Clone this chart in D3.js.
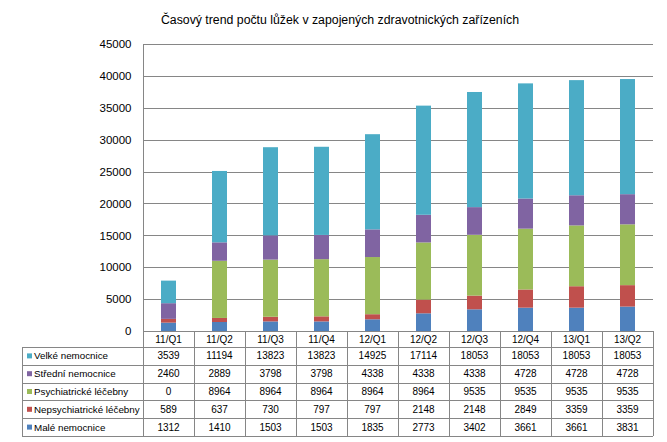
<!DOCTYPE html>
<html>
<head>
<meta charset="utf-8">
<script src="https://cdn.jsdelivr.net/npm/d3@7"></script>
<style>
  html, body { margin: 0; padding: 0; background: #fff; }
  svg { display: block; }
  text { font-family: "Liberation Sans", Arial, sans-serif; fill: #000; }
</style>
</head>
<body>
<svg id="chart" width="667" height="442"></svg>
<script>
const title = "Časový trend počtu lůžek v zapojených zdravotnických zařízeních";
const categories = ["11/Q1","11/Q2","11/Q3","11/Q4","12/Q1","12/Q2","12/Q3","12/Q4","13/Q1","13/Q2"];
// series in stacking order (bottom to top)
const seriesNames = ["Malé nemocnice","Nepsychiatrické léčebny","Psychiatrické léčebny","Střední nemocnice","Velké nemocnice"];
const maleNemocnice      = [1312, 1410, 1503, 1503, 1835, 2773, 3402, 3661, 3661, 3831];
const nepsychLecebny     = [589, 637, 730, 797, 797, 2148, 2148, 2849, 3359, 3359];
const psychLecebny       = [0, 8964, 8964, 8964, 8964, 8964, 9535, 9535, 9535, 9535];
const stredniNemocnice   = [2460, 2889, 3798, 3798, 4338, 4338, 4338, 4728, 4728, 4728];
const velkeNemocnice     = [3539, 11194, 13823, 13823, 14925, 17114, 18053, 18053, 18053, 18053];
const yTicks = [0,5000,10000,15000,20000,25000,30000,35000,40000,45000];
const colors = ["#4F81BD","#C0504D","#9BBB59","#8064A2","#4BACC6"];

const seriesValues = [maleNemocnice, nepsychLecebny, psychLecebny, stredniNemocnice, velkeNemocnice];
// table row order: top to bottom
const tableOrder = [4,3,2,1,0];

const svg = d3.select("#chart");
const L = 143, R = 653, T = 44, B = 331;
const tableLeft = 22, headerH = 16, rowH = 17.8;
const gridColor = "#868686";
const barW = 15;

const x = d3.scaleBand().domain(categories).range([L, R]).padding(0);
const y = d3.scaleLinear().domain([0, 45000]).range([B, T]);

// title
svg.append("text").attr("x", 340).attr("y", 24).attr("text-anchor", "middle")
  .style("font-size", "12.3px").text(title);

// gridlines
svg.append("g").selectAll("line").data(yTicks.filter(d => d > 0)).join("line")
  .attr("x1", L).attr("x2", R).attr("y1", d => Math.round(y(d)) + 0.5).attr("y2", d => Math.round(y(d)) + 0.5)
  .attr("stroke", gridColor).attr("stroke-width", 1);

// y axis via d3.axisLeft
const yAxis = svg.append("g").attr("transform", `translate(${L + 0.5},0)`)
  .call(d3.axisLeft(y).tickValues(yTicks).tickSize(0).tickPadding(12).tickFormat(d3.format("d")));
yAxis.select(".domain").attr("stroke", gridColor).attr("d", `M0,${T}V${B}`);
yAxis.selectAll("text").style("font-size", "11.5px").style("font-family", "Liberation Sans, Arial, sans-serif").attr("fill", "#000");

// stacked bars
const rows = categories.map((c, i) => {
  const o = { cat: c };
  seriesNames.forEach((s, k) => o[s] = seriesValues[k][i]);
  return o;
});
const stack = d3.stack().keys(seriesNames)(rows);
svg.append("g").selectAll("g").data(stack).join("g")
  .attr("fill", (d, k) => colors[k])
  .selectAll("rect").data(d => d).join("rect")
  .attr("x", d => x(d.data.cat) + x.bandwidth() / 2 - barW / 2)
  .attr("width", barW)
  .attr("y", d => y(d[1]))
  .attr("height", d => Math.max(0, y(d[0]) - y(d[1])));

// data table
const tbl = svg.append("g");
const tableBottom = B + headerH + rowH * 5;
const hLines = [B, B + headerH];
for (let r = 1; r <= 5; r++) hLines.push(B + headerH + rowH * r);
tbl.selectAll("line.h").data(hLines).join("line").attr("class", "h")
  .attr("x1", (d, i) => i === 0 ? L : tableLeft).attr("x2", R)
  .attr("y1", d => Math.round(d) + 0.5).attr("y2", d => Math.round(d) + 0.5)
  .attr("stroke", gridColor);
const vX = [L].concat(categories.map(c => x(c) + x.bandwidth()));
tbl.selectAll("line.v").data(vX).join("line").attr("class", "v")
  .attr("x1", d => Math.round(d) + 0.5).attr("x2", d => Math.round(d) + 0.5)
  .attr("y1", B).attr("y2", tableBottom).attr("stroke", gridColor);
tbl.append("line").attr("x1", tableLeft + 0.5).attr("x2", tableLeft + 0.5)
  .attr("y1", B + headerH).attr("y2", tableBottom).attr("stroke", gridColor);

tbl.selectAll("text.cat").data(categories).join("text").attr("class", "cat")
  .attr("x", d => x(d) + x.bandwidth() / 2).attr("y", B + headerH / 2 + 3.5)
  .attr("text-anchor", "middle").style("font-size", "10px").text(d => d);

tableOrder.forEach((k, r) => {
  const cy = B + headerH + rowH * r + rowH / 2;
  tbl.append("rect").attr("x", 27).attr("y", cy - 2.5).attr("width", 5).attr("height", 5).attr("fill", colors[k]);
  tbl.append("text").attr("x", 34).attr("y", cy + 3.5).style("font-size", "9.8px").text(seriesNames[k]);
  tbl.selectAll(null).data(seriesValues[k]).join("text")
    .attr("x", (d, i) => x(categories[i]) + x.bandwidth() / 2).attr("y", cy + 3.5)
    .attr("text-anchor", "middle").style("font-size", "10px").text(d => d);
});
</script>
</body>
</html>
